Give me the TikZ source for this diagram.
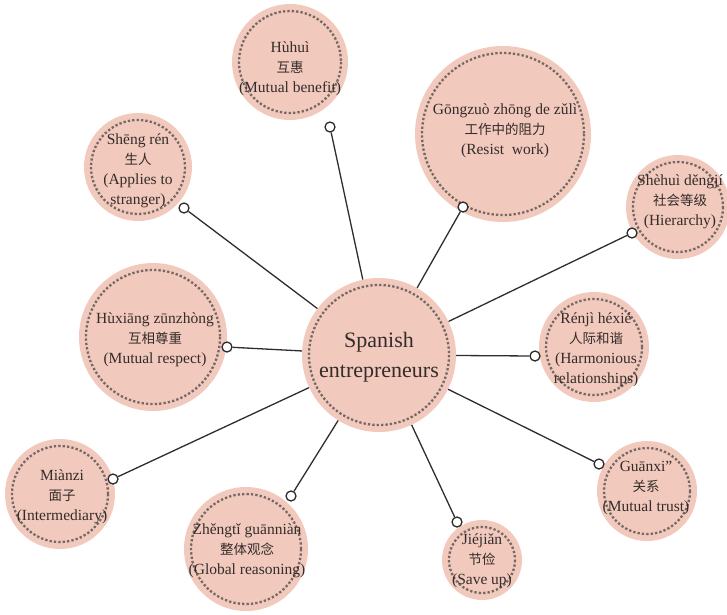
\documentclass[tikz,border=0pt]{standalone}
\usepackage{fontspec}
\setmainfont{Liberation Serif}
\newfontfamily\cjk{Noto Sans CJK SC}
\definecolor{bubblefill}{RGB}{242,201,189}
\definecolor{ringgray}{RGB}{118,104,100}
\definecolor{inkcol}{RGB}{52,44,42}
\definecolor{linkcol}{RGB}{45,45,45}
\newcommand\hanzi[1]{{\cjk\fontsize{13.5}{20}\selectfont #1}}
\begin{document}
\begin{tikzpicture}[x=1pt,y=-1pt,
  bubble/.style={circle, fill=bubblefill, draw=none, inner sep=0pt, minimum size=#1},
  ring/.style={draw=ringgray, line width=2.3pt, dash pattern=on 2.3pt off 2.1pt},
  caption/.style={align=center, text=inkcol, inner sep=0pt,
    font=\fontsize{15.5}{20}\selectfont},
  hubtext/.style={align=center, text=inkcol, inner sep=0pt,
    font=\fontsize{22}{30}\selectfont},
  pin/.style={circle, draw=linkcol, fill=white, line width=1.3pt,
    minimum size=10pt, inner sep=0pt},
  link/.style={draw=linkcol, line width=1.3pt}]
\useasboundingbox (0,0) rectangle (727,614);

% topic bubble: name, x, y, radius
\newcommand\topic[4]{%
  \node[bubble=2*#4] (#1) at (#2,#3) {};
  \draw[ring] (#1.center) circle[radius=#4-7];
}

% central bubble
\topic{hub}{379}{355}{77}
\node[hubtext] (hubtxt) at (379,357) {Spanish\\entrepreneurs};

% surrounding bubbles
\topic{huhui}{290}{62}{58}
\node[caption] (huhuitxt) at (290,69) {Hùhuì\\\hanzi{互惠}\\(Mutual benefit)};

\topic{gongzuo}{503}{134}{88}
\node[caption] (gongzuotxt) at (505,131) {Gōngzuò zhōng de zǔlì\\\hanzi{工作中的阻力}\\(Resist\ \ work)};

\topic{shengren}{138}{167}{54}
\node[caption] (shengrentxt) at (138,171) {Shēng rén\\\hanzi{生人}\\(Applies to\\stranger)};

\topic{shehui}{678}{207}{52}
\node[caption] (shehuitxt) at (680,202) {Shèhuì děngjí\\\hanzi{社会等级}\\(Hierarchy)};

\topic{huxiang}{153}{337}{74}
\node[caption] (huxiangtxt) at (155,340) {Hùxiāng zūnzhòng\\\hanzi{互相尊重}\\(Mutual respect)};

\topic{renji}{594}{347}{55}
\node[caption] (renjitxt) at (596,350) {Rénjì héxié\\\hanzi{人际和谐}\\(Harmonious\\relationships)};

\topic{mianzi}{60}{494}{55}
\node[caption] (mianzitxt) at (62,497) {Miànzi\\\hanzi{面子}\\(Intermediary)};

\topic{zhengti}{246}{549}{62}
\node[caption] (zhengtitxt) at (247,551) {Zhěngtǐ guānniàn\\\hanzi{整体观念}\\(Global reasoning)};

\topic{jiejian}{482}{560}{40}
\node[caption] (jiejiantxt) at (482,561) {Jiéjiǎn\\\hanzi{节俭}\\(Save up)};

\topic{guanxi}{647}{491}{50}
\node[caption] (guanxitxt) at (646,488) {Guānxi"\\\hanzi{关系}\\(Mutual trust)};

% connector end markers
\node[pin] (p1) at (330,127) {};
\node[pin] (p2) at (463,207) {};
\node[pin] (p3) at (184,208) {};
\node[pin] (p4) at (632,233) {};
\node[pin] (p5) at (227,347) {};
\node[pin] (p6) at (535,356) {};
\node[pin] (p7) at (113,479) {};
\node[pin] (p8) at (291,496) {};
\node[pin] (p9) at (457,522) {};
\node[pin] (p10) at (599,464) {};

% spokes from the hub
\foreach \p in {p1,p2,p3,p4,p5,p6,p7,p8,p9,p10}
  \draw[link] (hub) -- (\p);
\end{tikzpicture}
\end{document}
